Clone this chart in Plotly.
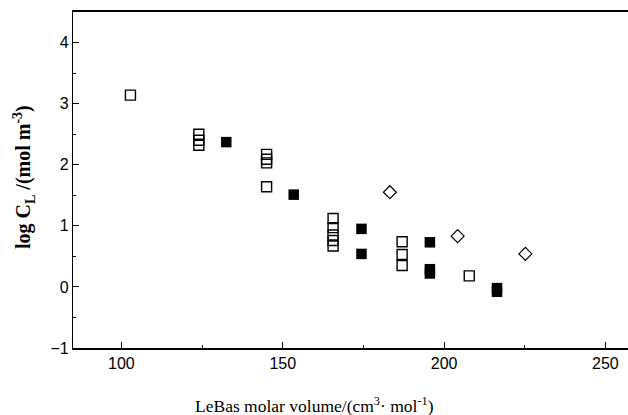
import plotly.graph_objects as go

# Open squares
open_x = [102.8, 124, 124, 124, 145, 145, 145, 145,
          165.6, 165.6, 165.6, 165.6, 165.6, 187, 187, 187, 207.8]
open_y = [3.14, 2.50, 2.40, 2.32, 2.17, 2.09, 2.03, 1.64,
          1.12, 0.97, 0.85, 0.76, 0.67, 0.74, 0.53, 0.35, 0.18]

# Filled squares
fill_x = [132.5, 153.4, 174.4, 174.4, 195.6, 195.6, 195.6, 216.4, 216.4]
fill_y = [2.37, 1.51, 0.95, 0.54, 0.73, 0.29, 0.22, -0.02, -0.08]

# Open diamonds
dia_x = [183.2, 204.2, 225.2]
dia_y = [1.55, 0.83, 0.54]

x_ticks = [100, 150, 200, 250]
y_ticks = [-1, 0, 1, 2, 3, 4]

x_title = "LeBas molar volume/(cm<sup>3</sup>· mol<sup>-1</sup>)"
y_title = "<b>log C<sub>L</sub> /(mol m<sup>-3</sup>)</b>"

fig = go.Figure()
fig.add_trace(go.Scatter(x=open_x, y=open_y, mode="markers",
                         marker=dict(symbol="square-open", size=10, color="black",
                                     line=dict(width=1.4, color="black"))))
fig.add_trace(go.Scatter(x=fill_x, y=fill_y, mode="markers",
                         marker=dict(symbol="square", size=10.5, color="black")))
fig.add_trace(go.Scatter(x=dia_x, y=dia_y, mode="markers",
                         marker=dict(symbol="diamond-open", size=10, color="black",
                                     line=dict(width=1.2, color="black"))))

fig.update_layout(
    width=628, height=415,
    margin=dict(l=73, r=0, t=12, b=67),
    plot_bgcolor="white", paper_bgcolor="white",
    showlegend=False,
    font=dict(family="Liberation Sans, Arial", size=16, color="black"),
    annotations=[
        dict(text=x_title, xref="paper", yref="paper", x=(314 - 73) / 555, y=-(405 - 348) / 336,
             xanchor="center", yanchor="middle", showarrow=False,
             font=dict(family="Liberation Serif, Times New Roman", size=17.5)),
        dict(text=y_title, xref="paper", yref="paper", x=-(73 - 24) / 555, y=(348 - 177) / 336,
             xanchor="center", yanchor="middle", showarrow=False, textangle=-90,
             font=dict(family="Liberation Serif, Times New Roman", size=20)),
    ],
)
fig.update_xaxes(
    range=[85, 257], tickvals=x_ticks, ticks="inside", ticklen=6, tickwidth=1,
    tickcolor="black", showgrid=False, zeroline=False,
    showline=True, linecolor="black", linewidth=2, mirror=True,
    minor=dict(dtick=25, tick0=0, ticks="inside", ticklen=3, tickcolor="black"),
    tickfont=dict(family="Liberation Sans, Arial", size=16),
)
fig.update_yaxes(
    range=[-1, 4.5], tickvals=y_ticks, ticks="inside", ticklen=6, tickwidth=1,
    tickcolor="black", showgrid=False, zeroline=False,
    showline=True, linecolor="black", linewidth=1.2, mirror=False,
    minor=dict(dtick=0.5, tick0=0, ticks="inside", ticklen=3, tickcolor="black"),
    tickfont=dict(family="Liberation Sans, Arial", size=16),
)

fig.write_html("out.html")
